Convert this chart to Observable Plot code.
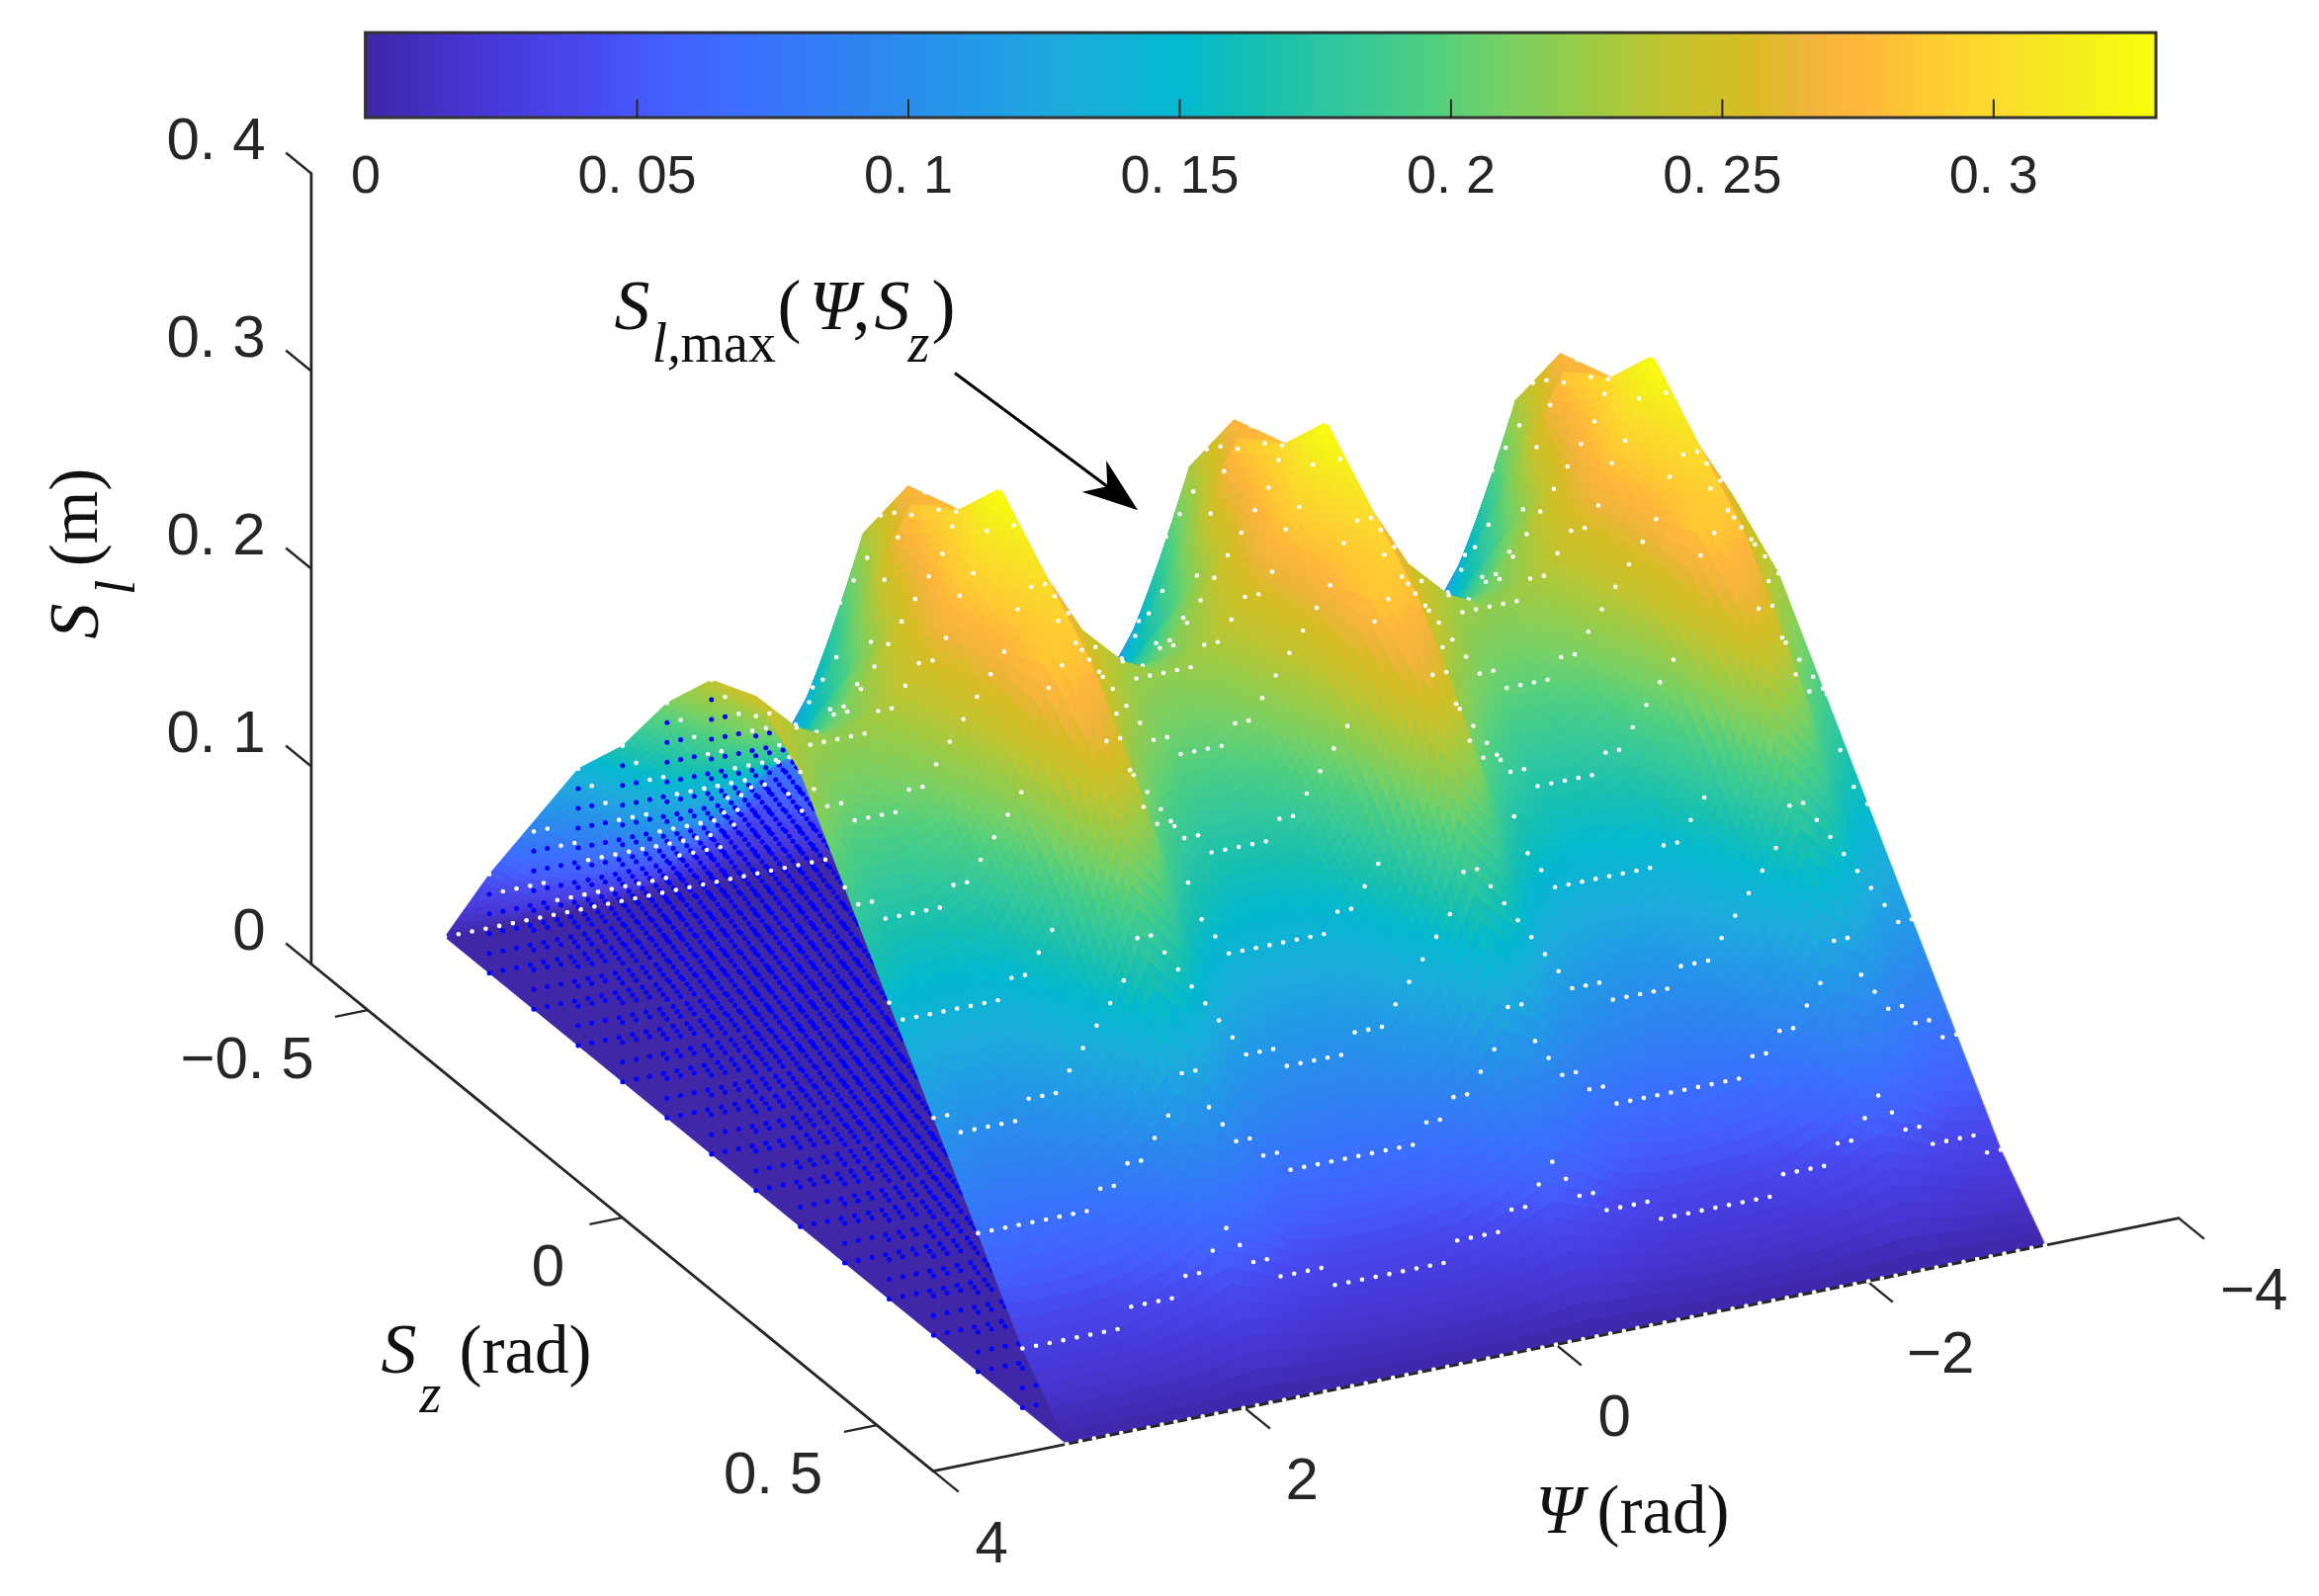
<!DOCTYPE html>
<html><head><meta charset="utf-8">
<style>html,body{margin:0;padding:0;background:#fff}svg{display:block}</style>
<script src="https://cdn.jsdelivr.net/npm/d3@7"></script>
<script src="https://cdn.jsdelivr.net/npm/@observablehq/plot@0.6"></script>
</head><body><div id="chart"></div>
<script>
// ---- values ----
const meshPsiDeg = [-180,-165,-150,-135,-120,-105,-90,-75,-60,-45,-30,-15,0,15,30,45,60,75,90,105,120,135,150,165,180];
const meshSzDeg  = [-35,-30,-25,-20,-15,-10,-5,0,5,10,15,20,25,30,35];
const latticePsiDeg = d3.range(-180,181,5);
// surface: one 120 degree period, psi = 60,75,...,180, one row per Sz
const meshM35 = [0,0,0,0,0,0,0,0,0];
const meshM30 = [.05,.08,.05,.04,.03,.03,.03,.035,.05];
const meshM25 = [.095,.14,.10,.08,.07,.07,.07,.08,.095];
const meshM20 = [.14,.23,.16,.13,.11,.10,.10,.115,.14];
const meshM15 = [.17,.272,.225,.17,.15,.14,.14,.145,.17];
const meshM10 = [.21,.28,.285,.22,.19,.17,.17,.18,.21];
const meshM5  = [.24,.285,.30,.26,.23,.205,.20,.21,.24];
const mesh0   = [.25,.285,.33,.285,.25,.23,.22,.23,.25];
const meshP5  = [.23,.26,.305,.275,.24,.21,.20,.205,.23];
const meshP10 = [.19,.225,.28,.29,.215,.18,.17,.17,.19];
const meshP15 = [.15,.18,.24,.27,.18,.145,.14,.14,.15];
const meshP20 = [.11,.125,.17,.195,.14,.115,.10,.10,.11];
const meshP25 = [.07,.075,.095,.105,.085,.075,.07,.068,.07];
const meshP30 = [.03,.033,.042,.05,.04,.033,.03,.03,.03];
const meshP35 = [0,0,0,0,0,0,0,0,0];
const meshRows = [meshM35,meshM30,meshM25,meshM20,meshM15,meshM10,meshM5,mesh0,meshP5,meshP10,meshP15,meshP20,meshP25,meshP30,meshP35];
// feasible tops (quantised 0.01): one period, psi = 60,65,...,180
const heightSz0  = [.24,.26,.27,.285,.30,.31,.33,.31,.29,.28,.26,.25,.25,.24,.23,.23,.22,.22,.22,.22,.22,.23,.24,.24,.25];
const heightSz5  = [.23,.24,.25,.26,.27,.28,.30,.30,.29,.27,.26,.25,.24,.23,.22,.21,.21,.20,.20,.20,.20,.21,.21,.22,.23];
const heightSz10 = [.19,.19,.20,.22,.25,.27,.28,.29,.28,.27,.24,.22,.21,.20,.19,.18,.18,.17,.17,.17,.17,.17,.18,.18,.19];
const heightSz15 = [.15,.16,.18,.21,.22,.23,.24,.26,.26,.23,.20,.18,.17,.16,.15,.15,.14,.14,.14,.14,.14,.14,.14,.14,.15];
const heightSz20 = [.11,.11,.12,.13,.14,.15,.16,.17,.18,.18,.16,.15,.14,.13,.12,.11,.11,.11,.10,.10,.10,.10,.10,.11,.11];
const heightSz25 = [.07,.07,.08,.08,.09,.09,.10,.11,.13,.13,.11,.10,.09,.09,.08,.08,.07,.07,.07,.07,.07,.07,.07,.07,.07];
const heightSz30 = [.03,.03,.04,.04,.04,.04,.05,.05,.06,.07,.06,.05,.05,.04,.04,.04,.04,.03,.03,.03,.03,.03,.03,.03,.03];
const heightSz35 = [0,0,0,0,0,0,0,0,0,0,0,0,0,0,0,0,0,0,0,0,0,0,0,0,0];
const heightRows = [heightSz0,heightSz5,heightSz10,heightSz15,heightSz20,heightSz25,heightSz30,heightSz35];

const colorValues = [0,.02,.04,.055,.07,.09,.11,.13,.15,.165,.18,.195,.21,.225,.24,.255,.265,.275,.285,.30,.315,.33];
const colorStops  = ["#3f27a8","#4736d4","#4848ee","#4460ff","#3a70ff","#2e84f0","#2398e8","#1cacdc","#03b9cf","#17c0b0","#33c89c","#4dcf82","#79d164","#9ccb45","#c3c42e","#d8bc24","#f0b53c","#ffb63a","#ffc833","#fbdb2b","#f5ee1c","#faff0b"];

const psiTicks = [4,2,0,-2,-4];
const psiTickLabels = ["4","2","0","−2","−4"];
const psiLabelDx = [59,58,59,74,76];
const szTicks = [-0.5,0,0.5];
const szTickLabels = ["−0. 5","0","0. 5"];
const szLabelDx = [-122,-75,-105];
const zTicks = [0,.1,.2,.3,.4];
const zTickLabels = ["0","0. 1","0. 2","0. 3","0. 4"];
const barTicks = [0,.05,.1,.15,.2,.25,.3];
const barTickLabels = ["0","0. 05","0. 1","0. 15","0. 2","0. 25","0. 3"];

// ---- view of the 3-D box on the page plane (orthographic) ----
const rad = Math.PI/180;
const view = (psi,sz,z)=>({x:1259-157.5*psi+515*sz, y:1103.6+32*psi+420*sz-2000*z});
const viewDeg = (p,s,z)=>view(p*rad,s*rad,z);
const barX = d3.scaleLinear([0,.33],[369.6,2181]);
const barTop = 33, barBottom = 119;
const szBox = 35*rad;

// ---- height lookup ----
const wrap = p => ((p-60)%120+120)%120+60;
function topHeight(p,s){
  let rel = wrap(p), q = s;
  if(q<0){ rel = wrap(180-rel); q=-q; }
  return heightRows[q/5][(rel-60)/5];
}
const node = (p,s)=>meshRows[(s+35)/5][(wrap(p)-60)/15];
function meshHeight(p,s){
  const i = Math.min(23,Math.max(0,Math.floor((p+180)/15))), j = Math.min(13,Math.max(0,Math.floor((s+35)/5)));
  const u = (p-meshPsiDeg[i])/15, v = (s-meshSzDeg[j])/5;
  const a=node(meshPsiDeg[i],meshSzDeg[j]), b=node(meshPsiDeg[i+1],meshSzDeg[j]),
        c=node(meshPsiDeg[i],meshSzDeg[j+1]), d=node(meshPsiDeg[i+1],meshSzDeg[j+1]);
  return (a*(1-u)+b*u)*(1-v)+(c*(1-u)+d*u)*v;
}
// a point is seen if the ray to the viewer does not cross the surface before leaving the box
function seen(p,s,z,skip){
  let sign=0;
  for(let t=skip;;t+=2){
    const pp=p+t, ss=s+.3058*t;
    if(pp>180||ss>35) return true;
    const d=z+.0014*t-meshHeight(pp,ss);
    const g=d>0?1:-1;
    if(!sign) sign=g; else if(g!==sign) return false;
  }
}

// ---- surface cells (shaded by height, far to near) ----
function cells(jFrom,jTo){
  const rows=[]; let id=0; const na=9, nb=8;
  for(let i=0;i<24;i++) for(let j=jFrom;j<jTo;j++) for(let a=0;a<na;a++) for(let b=0;b<nb;b++){
    const p0=meshPsiDeg[i]+15*a/na, p1=meshPsiDeg[i]+15*(a+1)/na, s0=meshSzDeg[j]+5*b/nb, s1=meshSzDeg[j]+5*(b+1)/nb;
    const v=meshHeight((p0+p1)/2,(s0+s1)/2);
    for(const [p,s] of [[p0,s0],[p1,s0],[p1,s1],[p0,s1]]){
      const P=viewDeg(p,s,meshHeight(p,s)); rows.push({id,x:P.x,y:P.y,v});
    }
    id++;
  }
  return rows;
}
const groundRows=[[-180,-35],[180,-35],[180,35],[-180,35]].map(([p,s])=>({id:0,...viewDeg(p,s,0),v:0}));
const backRows=cells(0,7), frontRows=cells(7,14);

// ---- feasible points ----
const blueDots=[], whiteBack=[], whiteFront=[];
for(const p of latticePsiDeg) for(const s of meshSzDeg){
  const top=topHeight(p,s), m=meshHeight(p,s);
  for(let k=0;k<Math.round(top*100);k++){
    const z=k/100;
    if(z<m&&p>=110&&seen(p,s,z,1)) blueDots.push(viewDeg(p,s,z));
  }
  if(top>=m-.02&&seen(p,s,m,6)) (s<0?whiteBack:whiteFront).push(viewDeg(p,s,top));
}

// ---- texts ----
const sans="Liberation Sans", serif="Liberation Serif", ink="#262626";
const labelRows=[
 {t:"S",x:385,y:1388,size:72,it:true},{t:"z",x:424,y:1428,size:56,it:true},{t:"(rad)",x:464,y:1388,size:69,it:false},
 {t:"Ψ",x:1553,y:1550,size:69,it:true},{t:"(rad)",x:1615,y:1550,size:69,it:false},
 {t:"S",x:621,y:332,size:72,it:true},{t:"l,",x:659,y:365,size:56,it:true},{t:"max",x:688,y:365,size:56,it:false},
 {t:"(",x:786,y:332,size:72,it:false},{t:"Ψ",x:818,y:332,size:72,it:true},{t:",",x:862,y:332,size:72,it:false},
 {t:"S",x:884,y:332,size:72,it:true},{t:"z",x:918,y:365,size:56,it:true},{t:")",x:942,y:332,size:72,it:false}
];
const rotatedRows=[
 {t:"S",x:75,y:628,size:72,it:true},{t:"l",x:118,y:594,size:56,it:true},{t:"(m)",x:75,y:523,size:69,it:false}
];
const arrowFrom={x:965.5,y:377}, arrowNeck={x:1120,y:492}, arrowTip={x:1150.6,y:515.7};
const headLen=56, headU=[arrowTip.x-arrowNeck.x,arrowTip.y-arrowNeck.y].map(v=>v/Math.hypot(arrowTip.x-arrowNeck.x,arrowTip.y-arrowNeck.y));
const headShape={draw(c,l){c.moveTo(0,-l);c.lineTo(20,0);c.lineTo(0,-17);c.lineTo(-20,0);c.closePath();}};

const surface=(rows)=>Plot.line(rows,{x:"x",y:"y",z:"id",fill:"v",stroke:"v",strokeWidth:.9,curve:"linear-closed"});
const barSteps=d3.range(0,.33,.001);

const chart=Plot.plot({
  width:2346,height:1615,margin:0,
  x:{domain:[0,2346],range:[0,2346],axis:null},
  y:{domain:[0,1615],range:[0,1615],axis:null},
  color:{type:"linear",domain:colorValues,range:colorStops,clamp:true},
  style:{background:"#fff"},
  marks:[
    surface(groundRows),
    surface(backRows),
    Plot.dot(blueDots,{x:"x",y:"y",r:2.5,fill:"#0000ff"}),
    Plot.dot(whiteBack,{x:"x",y:"y",r:2.3,fill:"#fff"}),
    surface(frontRows),
    // box axes
    Plot.line([[4,-szBox,.4],[4,-szBox,0],[4,szBox,0],[-4,szBox,0]].map(a=>view(...a)),{x:"x",y:"y",stroke:ink,strokeWidth:2.8}),
    Plot.link(zTicks,{x1:d=>view(4,-szBox,d).x,y1:d=>view(4,-szBox,d).y,x2:d=>view(4,-szBox-.05,d).x,y2:d=>view(4,-szBox-.05,d).y,stroke:ink,strokeWidth:2.4}),
    Plot.link(szTicks,{x1:d=>view(4,d,0).x,y1:d=>view(4,d,0).y,x2:d=>view(4.21,d,0).x,y2:d=>view(4.21,d,0).y,stroke:ink,strokeWidth:2.4}),
    Plot.link(psiTicks,{x1:d=>view(d,szBox,0).x,y1:d=>view(d,szBox,0).y,x2:d=>view(d,szBox+.05,0).x,y2:d=>view(d,szBox+.05,0).y,stroke:ink,strokeWidth:2.4}),
    Plot.dot(whiteFront,{x:"x",y:"y",r:2.3,fill:"#fff"}),
    // tick labels
    Plot.text(zTicks,{x:()=>268,y:d=>view(4,-szBox,d).y-34,text:(d,i)=>zTickLabels[i],textAnchor:"end",fontFamily:sans,fontSize:60,fill:ink}),
    Plot.text(szTicks,{x:(d,i)=>view(4,d,0).x+szLabelDx[i],y:d=>view(4,d,0).y+50,text:(d,i)=>szTickLabels[i],fontFamily:sans,fontSize:60,fill:ink}),
    Plot.text(psiTicks,{x:(d,i)=>view(d,szBox,0).x+psiLabelDx[i],y:d=>view(d,szBox,0).y+73,text:(d,i)=>psiTickLabels[i],fontFamily:sans,fontSize:60,fill:ink}),
    // colour bar
    Plot.rect(barSteps,{x1:d=>barX(d),x2:d=>barX(d+.0012),y1:()=>barTop,y2:()=>barBottom,fill:d=>d}),
    Plot.rect([0],{x1:()=>barX(0),x2:()=>barX(.33),y1:()=>barTop,y2:()=>barBottom,stroke:"#333",strokeWidth:3,fill:"none"}),
    Plot.link(barTicks.slice(1),{x1:d=>barX(d),x2:d=>barX(d),y1:()=>barBottom,y2:()=>barBottom-19,stroke:ink,strokeWidth:2}),
    Plot.text(barTicks,{x:d=>barX(d),y:()=>177,text:(d,i)=>barTickLabels[i],fontFamily:sans,fontSize:54,fill:ink}),
    // titles
    Plot.text(labelRows.filter(d=>d.it),{x:"x",y:"y",text:"t",textAnchor:"start",lineAnchor:"bottom",fontFamily:serif,fontStyle:"italic",fontSize:"size",fill:"#111"}),
    Plot.text(labelRows.filter(d=>!d.it),{x:"x",y:"y",text:"t",textAnchor:"start",lineAnchor:"bottom",fontFamily:serif,fontSize:"size",fill:"#111"}),
    Plot.text(rotatedRows.filter(d=>d.it),{x:"x",y:"y",text:"t",rotate:-90,fontFamily:serif,fontStyle:"italic",fontSize:"size",fill:"#111"}),
    Plot.text(rotatedRows.filter(d=>!d.it),{x:"x",y:"y",text:"t",rotate:-90,fontFamily:serif,fontSize:"size",fill:"#111"}),
    // annotation arrow
    Plot.link([0],{x1:()=>arrowFrom.x,y1:()=>arrowFrom.y,x2:()=>arrowNeck.x,y2:()=>arrowNeck.y,stroke:"#000",strokeWidth:3}),
    Plot.vector([0],{x:()=>arrowTip.x-headU[0]*headLen,y:()=>arrowTip.y-headU[1]*headLen,length:headLen,rotate:Math.atan2(headU[0],-headU[1])/rad,anchor:"start",shape:headShape,fill:"#000",stroke:"none"})
  ]
});
document.getElementById("chart").append(chart);
</script></body></html>
